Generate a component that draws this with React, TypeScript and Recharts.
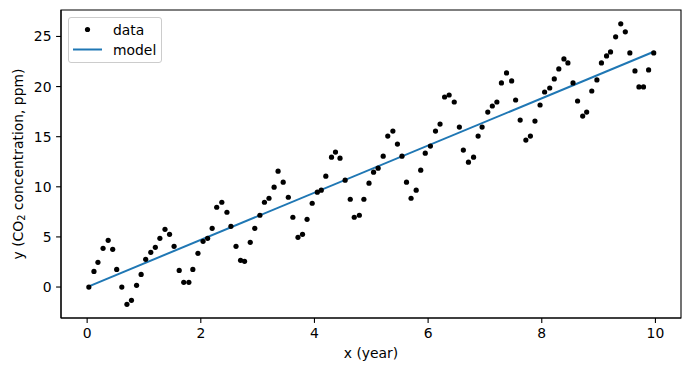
import React from 'react';
import { ComposedChart, Scatter, Line, XAxis, YAxis, ReferenceArea } from 'recharts';

const DATA_X = [
  0.03, 0.12, 0.19, 0.28, 0.37, 0.45, 0.52, 0.61, 0.70, 0.78,
  0.87, 0.95, 1.03, 1.12, 1.20, 1.28, 1.37, 1.45, 1.53, 1.62,
  1.70, 1.79, 1.86, 1.95, 2.04, 2.12, 2.20, 2.28, 2.37, 2.46,
  2.53, 2.62, 2.70, 2.77, 2.87, 2.95, 3.04, 3.12, 3.20, 3.29,
  3.36, 3.45, 3.54, 3.62, 3.71, 3.79, 3.87, 3.96, 4.05, 4.12,
  4.20, 4.30, 4.37, 4.45, 4.54, 4.63, 4.70, 4.79, 4.87, 4.96,
  5.04, 5.12, 5.21, 5.29, 5.38, 5.46, 5.54, 5.62, 5.70, 5.79,
  5.87, 5.95, 6.04, 6.13, 6.21, 6.29, 6.37, 6.46, 6.55, 6.62,
  6.71, 6.80, 6.88, 6.95, 7.05, 7.13, 7.21, 7.29, 7.38, 7.47,
  7.54, 7.62, 7.72, 7.80, 7.88, 7.97, 8.05, 8.14, 8.22, 8.30,
  8.39, 8.46, 8.55, 8.63, 8.72, 8.79, 8.88, 8.97, 9.05, 9.14,
  9.21, 9.30, 9.39, 9.47, 9.55, 9.64, 9.71, 9.79, 9.88, 9.97,
];

const DATA_Y = [
  0, 1.56, 2.46, 3.86, 4.66, 3.76, 1.76, 0, -1.73, -1.33,
  0.17, 1.26, 2.76, 3.46, 3.96, 4.86, 5.76, 5.26, 4.06, 1.66,
  0.47, 0.47, 1.76, 3.36, 4.56, 4.86, 5.86, 7.96, 8.46, 7.46,
  6.06, 4.06, 2.66, 2.56, 4.46, 5.86, 7.16, 8.46, 8.86, 9.96,
  11.56, 10.46, 8.96, 6.96, 4.96, 5.26, 6.76, 8.36, 9.46, 9.66,
  11.06, 12.96, 13.46, 12.86, 10.66, 8.76, 6.96, 7.16, 8.76, 10.36,
  11.46, 11.86, 13.06, 15.06, 15.56, 14.26, 13.06, 10.46, 8.86, 9.66,
  11.66, 13.36, 14.06, 15.56, 16.26, 18.96, 19.16, 18.46, 15.96, 13.66,
  12.46, 12.96, 15.06, 15.96, 17.46, 18.06, 18.46, 20.36, 21.36, 20.56,
  18.66, 16.66, 14.66, 15.06, 16.56, 18.16, 19.46, 19.86, 20.76, 21.76,
  22.76, 22.36, 20.36, 18.56, 17.06, 17.46, 19.56, 20.66, 22.36, 23.06,
  23.46, 24.96, 26.26, 25.46, 23.36, 21.56, 19.96, 19.96, 21.66, 23.36,
];

const MODEL_X = [0.03, 9.97];
const MODEL_Y = [0.07, 23.47];

const X_TICKS = [0, 2, 4, 6, 8, 10];
const Y_TICKS = [0, 5, 10, 15, 20, 25];
const X_DOMAIN: [number, number] = [-0.46, 10.45];
const Y_DOMAIN: [number, number] = [-3.09, 27.64];

const SERIES_NAMES = ['data', 'model'];
const X_LABEL = 'x (year)';

const points = DATA_X.map((x, i) => ({ x, y: DATA_Y[i] }));
const model = MODEL_X.map((x, i) => ({ x, y: MODEL_Y[i] }));

const FONT = '"DejaVu Sans", sans-serif';
const FS = 13.9;
const BLUE = '#1f77b4';

const tickStyle = { fontSize: FS, fill: '#000', fontFamily: FONT };

const YLabel = (props: any) => {
  const vb = props.viewBox || {};
  const cx = (vb.x || 0) + 18;
  const cy = (vb.y || 0) + (vb.height || 0) / 2;
  return (
    <text
      x={cx}
      y={cy}
      transform={`rotate(-90, ${cx}, ${cy})`}
      textAnchor="middle"
      dominantBaseline="central"
      fontSize={FS}
      fontFamily={FONT}
      fill="#000"
    >
      y (CO<tspan dy={3} fontSize={9.7}>2</tspan>
      <tspan dy={-3}> concentration, ppm)</tspan>
    </text>
  );
};

const XLabel = (props: any) => {
  const vb = props.viewBox || {};
  const cx = (vb.x || 0) + (vb.width || 0) / 2;
  const cy = (vb.y || 0) + 39.5;
  return (
    <text x={cx} y={cy} textAnchor="middle" fontSize={FS} fontFamily={FONT} fill="#000">
      {X_LABEL}
    </text>
  );
};

const Dot = (props: any) => {
  const { cx, cy } = props;
  if (cx == null || cy == null) return <g />;
  return <circle cx={cx} cy={cy} r={2.6} fill="#000" />;
};

export default function App() {
  return (
    <div style={{ position: 'absolute', left: 0, top: 0, width: 691, height: 371, background: '#fff' }}>
      <ComposedChart
        width={691}
        height={371}
        margin={{ top: 10, right: 10, bottom: 0, left: 0 }}
      >
        <XAxis
          type="number"
          dataKey="x"
          domain={X_DOMAIN}
          ticks={X_TICKS}
          allowDataOverflow
          height={53}
          tickSize={4.9}
          tickMargin={5.6}
          tick={tickStyle}
          stroke="#000"
          strokeWidth={1.1}
          tickLine={{ stroke: '#000', strokeWidth: 1.1 }}
          axisLine={{ stroke: '#000', strokeWidth: 1.1 }}
          label={<XLabel />}
        />
        <YAxis
          type="number"
          dataKey="y"
          domain={Y_DOMAIN}
          ticks={Y_TICKS}
          allowDataOverflow
          width={61}
          tickSize={4.9}
          tickMargin={4.6}
          tick={tickStyle}
          stroke="#000"
          strokeWidth={1.1}
          tickLine={{ stroke: '#000', strokeWidth: 1.1 }}
          axisLine={{ stroke: '#000', strokeWidth: 1.1 }}
          label={<YLabel />}
        />
        <ReferenceArea
          x1={X_DOMAIN[0]}
          x2={X_DOMAIN[1]}
          y1={Y_DOMAIN[0]}
          y2={Y_DOMAIN[1]}
          fill="none"
          fillOpacity={0}
          stroke="#000"
          strokeWidth={1.1}
          ifOverflow="visible"
        />
        <Scatter
          name={SERIES_NAMES[0]}
          data={points}
          dataKey="y"
          fill="#000"
          shape={<Dot />}
          isAnimationActive={false}
        />
        <Line
          name={SERIES_NAMES[1]}
          data={model}
          dataKey="y"
          type="linear"
          stroke={BLUE}
          strokeWidth={2}
          dot={false}
          activeDot={false}
          isAnimationActive={false}
        />
      </ComposedChart>
      <div
        style={{
          position: 'absolute',
          left: 68,
          top: 17,
          width: 92,
          height: 44,
          border: '1px solid #cccccc',
          borderRadius: 3,
          background: 'rgba(255,255,255,0.8)',
        }}
      >
        <svg width={92} height={44} style={{ display: 'block' }}>
          <circle cx={18.5} cy={11.5} r={2.6} fill="#000" />
          <text x={44} y={11.5} dominantBaseline="central" fontSize={FS} fontFamily={FONT} fill="#000">
            {SERIES_NAMES[0]}
          </text>
          <line x1={4} x2={33} y1={31.5} y2={31.5} stroke={BLUE} strokeWidth={2} />
          <text x={44} y={31.5} dominantBaseline="central" fontSize={FS} fontFamily={FONT} fill="#000">
            {SERIES_NAMES[1]}
          </text>
        </svg>
      </div>
    </div>
  );
}
